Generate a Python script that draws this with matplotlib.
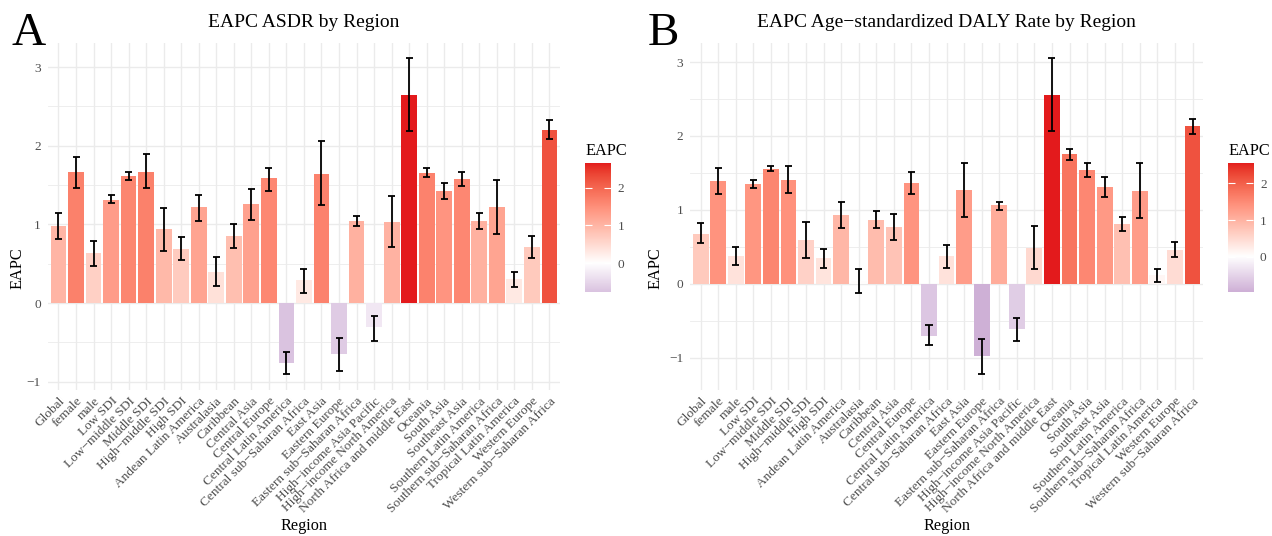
import numpy as np
import matplotlib.pyplot as plt
from matplotlib.colors import ListedColormap, Normalize, to_rgb

plt.rcParams['font.family'] = ['Liberation Serif', 'DejaVu Serif']

#----------------- DATA -----------------
regions = ['Global', 'female', 'male', 'Low SDI', 'Low\u2212middle SDI', 'Middle SDI',
           'High\u2212middle SDI', 'High SDI', 'Andean Latin America', 'Australasia',
           'Caribbean', 'Central Asia', 'Central Europe', 'Central Latin America',
           'Central sub\u2212Saharan Africa', 'East Asia', 'Eastern Europe',
           'Eastern sub\u2212Saharan Africa', 'High\u2212income Asia Pacific',
           'High\u2212income North America', 'North Africa and middle East', 'Oceania',
           'South Asia', 'Southeast Asia', 'Southern Latin America',
           'Southern sub\u2212Saharan Africa', 'Tropical Latin America', 'Western Europe',
           'Western sub\u2212Saharan Africa']

asdr = [0.98, 1.665, 0.635, 1.31, 1.61, 1.67, 0.94, 0.686, 1.216, 0.394,
        0.856, 1.258, 1.59, -0.758, 0.29, 1.64, -0.644, 1.04, -0.31,
        1.025, 2.65, 1.65, 1.424, 1.576, 1.04, 1.216, 0.305, 0.71, 2.20]
asdr_lo = [0.81, 1.46, 0.47, 1.27, 1.56, 1.46, 0.665, 0.547, 1.04, 0.216,
           0.70, 1.06, 1.43, -0.90, 0.127, 1.25, -0.86, 0.98, -0.48,
           0.71, 2.19, 1.60, 1.32, 1.487, 0.936, 0.877, 0.21, 0.57, 2.09]
asdr_hi = [1.15, 1.86, 0.79, 1.37, 1.665, 1.89, 1.21, 0.84, 1.377, 0.58,
           1.00, 1.445, 1.72, -0.62, 0.436, 2.055, -0.44, 1.11, -0.17,
           1.36, 3.11, 1.72, 1.53, 1.665, 1.144, 1.56, 0.40, 0.85, 2.33]

daly = [0.68, 1.39, 0.379, 1.35, 1.55, 1.41, 0.59, 0.343, 0.93, 0.035,
        0.87, 0.762, 1.37, -0.70, 0.37, 1.267, -0.97, 1.06, -0.618,
        0.487, 2.56, 1.75, 1.54, 1.31, 0.807, 1.26, 0.113, 0.455, 2.13]
daly_lo = [0.546, 1.218, 0.248, 1.29, 1.52, 1.227, 0.35, 0.21, 0.75, -0.13,
           0.75, 0.59, 1.218, -0.825, 0.217, 0.907, -1.218, 1.0, -0.77,
           0.194, 2.066, 1.67, 1.45, 1.168, 0.708, 0.884, 0.018, 0.36, 2.025]
daly_hi = [0.82, 1.565, 0.50, 1.40, 1.59, 1.59, 0.834, 0.47, 1.11, 0.203,
           0.98, 0.94, 1.51, -0.56, 0.523, 1.63, -0.74, 1.105, -0.456,
           0.78, 3.05, 1.82, 1.63, 1.443, 0.91, 1.637, 0.207, 0.564, 2.23]


#----------------- COLOUR SCALE (white midpoint, Lab interpolation) -----------------
def srgb_to_lab(c):
    c = np.asarray(c, float)
    lin = np.where(c <= 0.04045, c / 12.92, ((c + 0.055) / 1.055) ** 2.4)
    M = np.array([[0.4124, 0.3576, 0.1805], [0.2126, 0.7152, 0.0722], [0.0193, 0.1192, 0.9505]])
    xyz = lin @ M.T / np.array([0.95047, 1.0, 1.08883])
    f = np.where(xyz > 0.008856, np.cbrt(xyz), 7.787 * xyz + 16 / 116)
    return np.stack([116 * f[..., 1] - 16, 500 * (f[..., 0] - f[..., 1]), 200 * (f[..., 1] - f[..., 2])], -1)


def lab_to_srgb(lab):
    L, a, b = lab[..., 0], lab[..., 1], lab[..., 2]
    fy = (L + 16) / 116
    f = np.stack([fy + a / 500, fy, fy - b / 200], -1)
    xyz = np.where(f ** 3 > 0.008856, f ** 3, (f - 16 / 116) / 7.787) * np.array([0.95047, 1.0, 1.08883])
    Minv = np.array([[3.2406, -1.5372, -0.4986], [-0.9689, 1.8758, 0.0415], [0.0557, -0.2040, 1.0570]])
    lin = xyz @ Minv.T
    c = np.where(lin <= 0.0031308, 12.92 * lin, 1.055 * np.clip(lin, 0, None) ** (1 / 2.4) - 0.055)
    return np.clip(c, 0, 1)


low_lab = srgb_to_lab(to_rgb('#7B3294'))
mid_lab = srgb_to_lab(to_rgb('white'))
high_lab = srgb_to_lab(to_rgb('#E31A1C'))
t = np.linspace(0, 1, 256)[:, None]
labs = np.where(t < 0.5, low_lab + (mid_lab - low_lab) * (t / 0.5),
                mid_lab + (high_lab - mid_lab) * ((t - 0.5) / 0.5))
cmap = ListedColormap(lab_to_srgb(labs))

grid_col = '#EBEBEB'
text_col = '#4D4D4D'

fig = plt.figure(figsize=(12.72, 5.36), dpi=100)


def draw_panel(ax_rect, cax_rect, vals, lo, hi, title, letter, letter_x, ylab_x):
    ax = fig.add_axes(ax_rect)
    cax = fig.add_axes(cax_rect)
    vals = np.array(vals)
    x = np.arange(len(regions))
    lim = np.abs(vals).max()
    norm = Normalize(-lim, lim)

    ax.bar(x, vals, width=0.9, color=cmap(norm(vals)), zorder=2)
    ax.vlines(x, lo, hi, color='black', lw=1.3, zorder=3)
    ax.hlines(lo, x - 0.2, x + 0.2, color='black', lw=1.3, zorder=3)
    ax.hlines(hi, x - 0.2, x + 0.2, color='black', lw=1.3, zorder=3)

    ymin = min(min(lo), vals.min(), 0)
    ymax = max(max(hi), vals.max())
    pad = (ymax - ymin) * 0.05
    ax.set_ylim(ymin - pad, ymax + pad)
    ax.set_xlim(-0.6, len(regions) - 0.4)

    ax.set_yticks([-1, 0, 1, 2, 3])
    ax.set_yticklabels(['\u22121', '0', '1', '2', '3'])
    ax.set_yticks([-0.5, 0.5, 1.5, 2.5], minor=True)
    ax.set_xticks(x)
    ax.set_xticklabels(regions, rotation=45, ha='right', va='top', rotation_mode='anchor')
    ax.tick_params(axis='both', which='both', length=0, labelsize=9.6, colors=text_col)
    ax.tick_params(axis='y', pad=5)
    ax.tick_params(axis='x', pad=4)
    ax.grid(True, which='major', color=grid_col, lw=1.0, zorder=0)
    ax.grid(True, which='minor', axis='y', color=grid_col, lw=0.6, zorder=0)
    ax.set_axisbelow(True)
    for s in ax.spines.values():
        s.set_visible(False)

    ax.set_title(title, fontsize=14, pad=11)
    ax.set_xlabel('Region', fontsize=11.7)
    ax.xaxis.set_label_coords(ax_rect[0] + ax_rect[2] / 2, 0.034, transform=fig.transFigure)
    ax.set_ylabel('EAPC', fontsize=11.7)
    ax.yaxis.set_label_coords(ylab_x, 0.5, transform=fig.transFigure)
    fig.text(letter_x, 0.976, letter, fontsize=34, va='top', ha='left')

    # colour bar covering the data range only
    vmin, vmax = vals.min(), vals.max()
    grad = np.linspace(vmin, vmax, 256).reshape(-1, 1)
    cax.imshow(grad, cmap=cmap, norm=norm, aspect='auto', origin='lower', extent=[0, 1, vmin, vmax])
    cax.set_xlim(0, 1)
    cax.set_ylim(vmin, vmax)
    cax.set_xticks([])
    cax.set_yticks([0, 1, 2])
    cax.yaxis.set_ticks_position('both')
    cax.tick_params(axis='y', direction='in', length=5, width=0.8, color='white',
                    labelleft=False, labelright=True, labelsize=9.6, labelcolor=text_col, pad=5)
    for s in cax.spines.values():
        s.set_visible(False)
    cax.set_title('EAPC', fontsize=11.7, loc='left', pad=6)


draw_panel([0.0377, 0.2731, 0.4025, 0.6474], [0.4599, 0.4552, 0.0204, 0.2407],
           asdr, asdr_lo, asdr_hi, 'EAPC ASDR by Region', 'A', 0.009, 0.0197)
draw_panel([0.5425, 0.2731, 0.4033, 0.6474], [0.9654, 0.4552, 0.0197, 0.2407],
           daly, daly_lo, daly_hi, 'EAPC Age\u2212standardized DALY Rate by Region', 'B', 0.509, 0.522)

fig.savefig('out.png', dpi=100)
